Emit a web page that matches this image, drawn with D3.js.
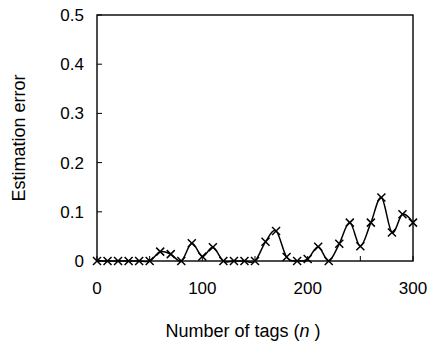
<!DOCTYPE html>
<html>
<head>
<meta charset="utf-8">
<script src="https://cdn.jsdelivr.net/npm/d3@7"></script>
<style>
html,body{margin:0;padding:0;background:#fff;}
text{font-family:"Liberation Sans",Arial,sans-serif;fill:#000;}
</style>
</head>
<body>
<svg id="chart" width="429" height="345"></svg>
<script>
const tags = [0,10,20,30,40,50,60,70,80,90,100,110,120,130,140,150,160,170,180,190,200,210,220,230,240,250,260,270,280,290,300];
const errors = [0,0,0,0,0,0,0.019,0.014,0,0.036,0.009,0.028,0,0,0,0,0.039,0.061,0.008,0,0.004,0.029,0,0.035,0.078,0.030,0.078,0.129,0.058,0.095,0.078];
const xTickLabels = [0,100,200,300];
const yTickLabels = [0,0.1,0.2,0.3,0.4,0.5];
const xTitle = "Number of tags (";
const xTitleItalic = "n";
const yTitle = "Estimation error";

const svg = d3.select("#chart");
const L = 97, R = 413, T = 15, B = 261;
const x = d3.scaleLinear().domain([0,300]).range([L,R]);
const y = d3.scaleLinear().domain([0,0.5]).range([B,T]);

// ticks (inward)
const xMinor = d3.range(0,301,50);
svg.append("g").selectAll("line").data(xMinor).join("line")
  .attr("x1",d=>x(d)).attr("x2",d=>x(d)).attr("y1",B).attr("y2",B-5)
  .attr("stroke","#000").attr("stroke-width",1);
svg.append("g").selectAll("line").data(yTickLabels).join("line")
  .attr("x1",L).attr("x2",L+5).attr("y1",d=>y(d)).attr("y2",d=>y(d))
  .attr("stroke","#000").attr("stroke-width",1);

// frame
svg.append("rect").attr("x",L).attr("y",T).attr("width",R-L).attr("height",B-T)
  .attr("fill","none").attr("stroke","#000").attr("stroke-width",1.4);

// tick labels
svg.append("g").selectAll("text").data(xTickLabels).join("text")
  .attr("x",d=>x(d)).attr("y",294).attr("text-anchor","middle")
  .style("font-size","17px").text(d=>d);
svg.append("g").selectAll("text").data(yTickLabels).join("text")
  .attr("x",84).attr("y",d=>y(d)+6).attr("text-anchor","end")
  .style("font-size","17px").text(d=>d===0?"0":d3.format(".1f")(d));

// line
const line = d3.line().x((d,i)=>x(tags[i])).y(d=>y(d)).curve(d3.curveCardinal.tension(0));
svg.append("path").datum(errors).attr("d",line)
  .attr("fill","none").attr("stroke","#000").attr("stroke-width",1.5);

// markers
const s = 4;
svg.append("g").selectAll("path").data(errors).join("path")
  .attr("d",(d,i)=>{const cx=x(tags[i]), cy=y(d);
    return `M${cx-s},${cy-s}L${cx+s},${cy+s}M${cx-s},${cy+s}L${cx+s},${cy-s}`;})
  .attr("stroke","#000").attr("stroke-width",1.5).attr("fill","none");

// titles
const xt = svg.append("text").attr("x",243).attr("y",337).attr("text-anchor","middle")
  .style("font-size","18px");
xt.append("tspan").text(xTitle);
xt.append("tspan").style("font-style","italic").text(xTitleItalic);
xt.append("tspan").text(" )");

svg.append("text").attr("transform",`translate(25,${(T+B)/2}) rotate(-90)`)
  .attr("text-anchor","middle").style("font-size","18px").text(yTitle);
</script>
</body>
</html>
